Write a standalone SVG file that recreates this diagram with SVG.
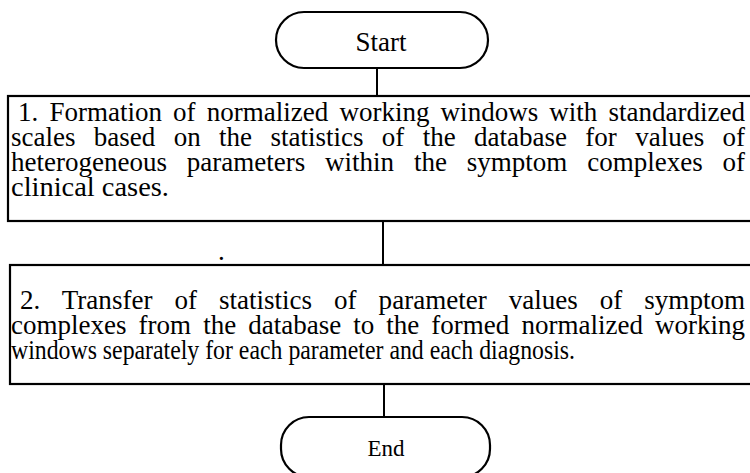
<svg xmlns="http://www.w3.org/2000/svg" width="750" height="473" viewBox="0 0 750 473">
<style>
.shape{fill:#fff;stroke:#000;stroke-width:2.2}
.conn{stroke:#000;stroke-width:2;fill:none}
.t{font-family:"Liberation Serif","Times New Roman",serif;font-size:27px;fill:#000}
.term{font-family:"Liberation Serif","Times New Roman",serif;fill:#000;text-anchor:middle}
</style>
<rect width="750" height="473" fill="#fff"/>
<g id="connectors">
<line class="conn" x1="377" y1="68" x2="377" y2="96"/>
<line class="conn" x1="383" y1="221" x2="383" y2="265"/>
<line class="conn" x1="384" y1="384" x2="384" y2="417"/>
</g>
<g id="start">
<rect class="shape" x="276" y="12" width="212" height="56" rx="28" ry="28"/>
<text class="term" x="381" y="51" font-size="27">Start</text>
</g>
<g id="step1">
<rect class="shape" x="8" y="96" width="760" height="125"/>
<text class="t" x="18" y="121" word-spacing="4.4" textLength="727" lengthAdjust="spacingAndGlyphs">1. Formation of normalized working windows with standardized</text>
<text class="t" x="11" y="146" word-spacing="11.6" textLength="734" lengthAdjust="spacingAndGlyphs">scales based on the statistics of the database for values of</text>
<text class="t" x="11" y="171" word-spacing="13.1" textLength="734" lengthAdjust="spacingAndGlyphs">heterogeneous parameters within the symptom complexes of</text>
<text class="t" x="11" y="196" textLength="158" lengthAdjust="spacingAndGlyphs">clinical cases.</text>
</g>
<text class="t" x="218" y="260" font-size="20">.</text>
<g id="step2">
<rect class="shape" x="10" y="265" width="760" height="119"/>
<text class="t" x="20" y="309" word-spacing="15.2" textLength="725" lengthAdjust="spacingAndGlyphs">2. Transfer of statistics of parameter values of symptom</text>
<text class="t" x="11" y="334" word-spacing="5.3" textLength="734" lengthAdjust="spacingAndGlyphs">complexes from the database to the formed normalized working</text>
<text class="t" x="11" y="359" textLength="564" lengthAdjust="spacingAndGlyphs">windows separately for each parameter and each diagnosis.</text>
</g>
<g id="end">
<rect class="shape" x="281" y="417" width="209" height="60" rx="28" ry="28"/>
<text class="term" x="386" y="456" font-size="23">End</text>
</g>
</svg>
